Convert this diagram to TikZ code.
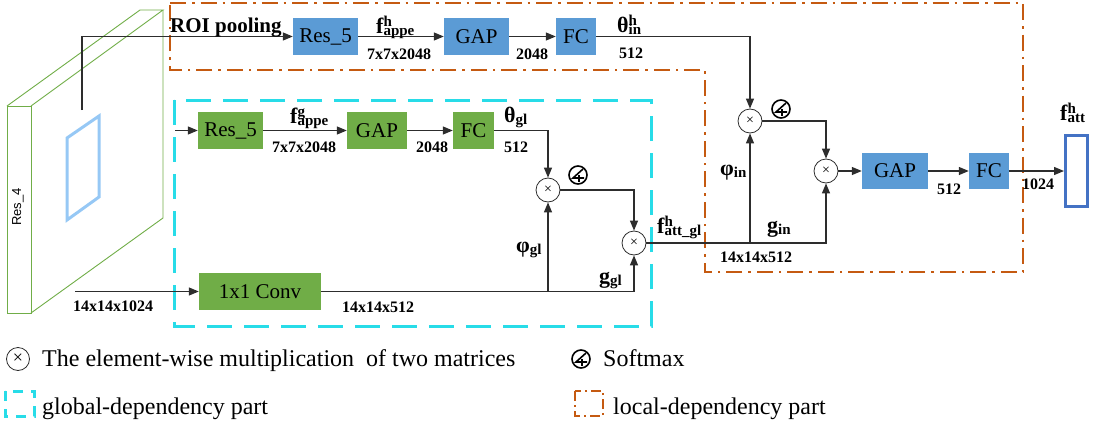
\documentclass[tikz,border=0pt]{standalone}
\usepackage{fontspec}
\setmainfont{Liberation Serif}
\setsansfont{Liberation Sans}
\usetikzlibrary{arrows.meta}

\definecolor{boxblue}{RGB}{91,155,213}
\definecolor{boxgreen}{RGB}{112,173,71}
\definecolor{dashcyan}{RGB}{40,220,232}
\definecolor{dashorange}{RGB}{197,90,17}
\definecolor{outblue}{RGB}{68,114,196}
\definecolor{framelight}{RGB}{150,200,245}
\definecolor{linegray}{RGB}{45,45,45}

% feature label: main letter, superscript, subscript
\newcommand{\flab}[3]{{\fontsize{22}{24}\selectfont #1}{\fontsize{15}{16}\selectfont\raisebox{0.45em}{\rlap{#2}}\raisebox{-0.15em}{#3}}}

\tikzset{
  softmax/.pic={
    \draw[line width=1.6pt] (0,0) circle[radius=9];
    \draw[line width=1.6pt] (5,-6) -- (-5,3) -- (6,3);
    \draw[line width=1.6pt] (1,0) -- (1,7);
  }
}

\begin{document}
\begin{tikzpicture}[x=1pt,y=-1pt,
    box/.style={draw=none,inner sep=0pt,minimum height=37pt,font=\fontsize{21}{25}\selectfont},
    bluebox/.style={box,fill=boxblue},
    greenbox/.style={box,fill=boxgreen},
    mul/.style={circle,draw=linegray,fill=white,line width=0.8pt,minimum size=24pt,inner sep=0pt,font=\fontsize{14}{14}\selectfont},
    lbl/.style={inner sep=0pt,font=\fontsize{16}{18}\selectfont\bfseries},
    con/.style={draw=linegray,line width=1.3pt},
    arr/.style={con,-{Triangle[length=10pt,width=8pt]}},
    legend/.style={inner sep=0pt,anchor=base west,font=\fontsize{24}{28}\selectfont}]
  \useasboundingbox (0,0) rectangle (1100,431);

  % Res_4 feature map
  \draw[boxgreen,line width=0.9pt] (7,106) rectangle (31,313);
  \draw[boxgreen,line width=0.9pt] (7,106) -- (140,10) -- (163,10) -- (31,106);
  \draw[boxgreen,line width=0.9pt] (163,10) -- (163,218) -- (31,313);
  \draw[framelight,line width=3pt] (67,138) -- (99,116) -- (99,197) -- (67,220) -- cycle;
  \node[rotate=90,font=\sffamily\fontsize{13}{15}\selectfont] (res4) at (18,207) {Res\_4};

  % dependency parts
  \draw[dashorange,line width=2.5pt,dash pattern=on 16pt off 6pt on 2.5pt off 6pt]
    (170,3) -- (1023,3) -- (1023,272) -- (705,272) -- (705,70) -- (170,70) -- cycle;
  \draw[dashcyan,line width=3pt,dash pattern=on 25pt off 12pt] (174,100) rectangle (651,326);

  % local branch
  \node[bluebox,minimum width=65pt] (res5h) at (325.5,36.5) {Res\_5};
  \node[bluebox,minimum width=65pt] (gaph) at (476.5,36.5) {GAP};
  \node[bluebox,minimum width=40pt] (fch) at (576,36.5) {FC};

  % global branch
  \node[greenbox,minimum width=65pt] (res5g) at (230.5,130.5) {Res\_5};
  \node[greenbox,minimum width=60pt] (gapg) at (377,130.5) {GAP};
  \node[greenbox,minimum width=41pt] (fcg) at (473.5,130.5) {FC};
  \node[greenbox,minimum width=122pt] (conv) at (260,291.5) {1x1 Conv};

  % products
  \node[mul] (mulg1) at (548,190) {×};
  \node[mul] (mulg2) at (634,243) {×};
  \node[mul] (muli1) at (750,121) {×};
  \node[mul] (muli2) at (826,171) {×};
  \pic at (578,175) {softmax};
  \pic at (781,109) {softmax};

  % output head
  \node[bluebox,minimum width=66pt,minimum height=36pt] (gapo) at (895,171) {GAP};
  \node[bluebox,minimum width=40pt,minimum height=36pt] (fco) at (989,171) {FC};
  \node[draw=outblue,line width=3pt,minimum width=22pt,minimum height=71pt,inner sep=0pt] (out) at (1076.5,171) {};

  % connectors
  \coordinate (roi) at (82,110);
  \coordinate (gin) at (175,130.5);
  \coordinate (cin) at (75,291.5);
  \coordinate (jg) at (548,291.5);
  \coordinate (ji) at (750,243);
  \draw[arr] (roi) |- (res5h.west);
  \draw[arr] (res5h) -- (gaph);
  \draw[arr] (gaph) -- (fch);
  \draw[arr] (fch.east) -| (muli1.north);
  \draw[arr] (gin) -- (res5g);
  \draw[arr] (res5g) -- (gapg);
  \draw[arr] (gapg) -- (fcg);
  \draw[arr] (fcg.east) -| (mulg1.north);
  \draw[arr] (cin) -- (conv);
  \draw[arr] (conv.east) -| (mulg2.south);
  \draw[arr] (jg) -- (mulg1.south);
  \draw[arr] (mulg1.east) -| (mulg2.north);
  \draw[arr] (mulg2.east) -| (muli2.south);
  \draw[arr] (ji) -- (muli1.south);
  \draw[arr] (muli1.east) -| (muli2.north);
  \draw[arr] (muli2) -- (gapo);
  \draw[arr] (gapo) -- (fco);
  \draw[arr] (fco) -- (out);

  % labels
  \node[lbl,anchor=base west,font=\fontsize{21}{24}\selectfont\bfseries] (roilbl) at (170,32) {ROI pooling};
  \node[lbl,anchor=base west] (fhappe) at (376,33) {\flab{f}{h}{appe}};
  \node[lbl,anchor=base] (szh1) at (399,59) {7x7x2048};
  \node[lbl,anchor=base] (szh2) at (532,59) {2048};
  \node[lbl,anchor=base] (szh3) at (631,58) {512};
  \node[lbl,anchor=base west] (thin) at (617,32) {\flab{θ}{h}{in}};
  \node[lbl,anchor=base west] (fgappe) at (290,123) {\flab{f}{g}{appe}};
  \node[lbl,anchor=base] (szg1) at (304,152) {7x7x2048};
  \node[lbl,anchor=base] (szg2) at (432,152) {2048};
  \node[lbl,anchor=base] (szg3) at (516,152) {512};
  \node[lbl,anchor=base west] (thgl) at (504,122) {\flab{θ}{}{gl}};
  \node[lbl,anchor=base west] (phgl) at (516,252) {\flab{φ}{}{gl}};
  \node[lbl,anchor=base west] (ggl) at (599,283) {\flab{g}{}{gl}};
  \node[lbl,anchor=base] (szc1) at (378,312) {14x14x512};
  \node[lbl,anchor=base] (szc0) at (113,311) {14x14x1024};
  \node[lbl,anchor=base west] (fattgl) at (657,233) {\flab{f}{h}{att\_gl}};
  \node[lbl,anchor=base west] (phin) at (720,175) {\flab{φ}{}{in}};
  \node[lbl,anchor=base west] (gin_l) at (767,232) {\flab{g}{}{in}};
  \node[lbl,anchor=base] (szi1) at (756,262) {14x14x512};
  \node[lbl,anchor=base] (szo1) at (949,194) {512};
  \node[lbl,anchor=base] (szo2) at (1038,189) {1024};
  \node[lbl,anchor=base west] (fhatt) at (1060,120) {\flab{f}{h}{att}};

  % legend
  \node[mul,minimum size=23pt,font=\fontsize{18}{18}\selectfont] (legmul) at (18,359) {×};
  \node[legend] (legmultxt) at (42,366) {The element-wise multiplication\ \ of two matrices};
  \pic at (581,359) {softmax};
  \node[legend] (legsmtxt) at (603,366) {Softmax};
  \draw[dashcyan,line width=3pt,dash pattern=on 10pt off 8pt] (5,391) rectangle (34,416);
  \node[legend] (leggltxt) at (42,414) {global-dependency part};
  \draw[dashorange,line width=2pt,dash pattern=on 10pt off 4pt on 2pt off 4pt] (575,391) rectangle (603,416);
  \node[legend] (leglctxt) at (613,414) {local-dependency part};
\end{tikzpicture}
\end{document}
